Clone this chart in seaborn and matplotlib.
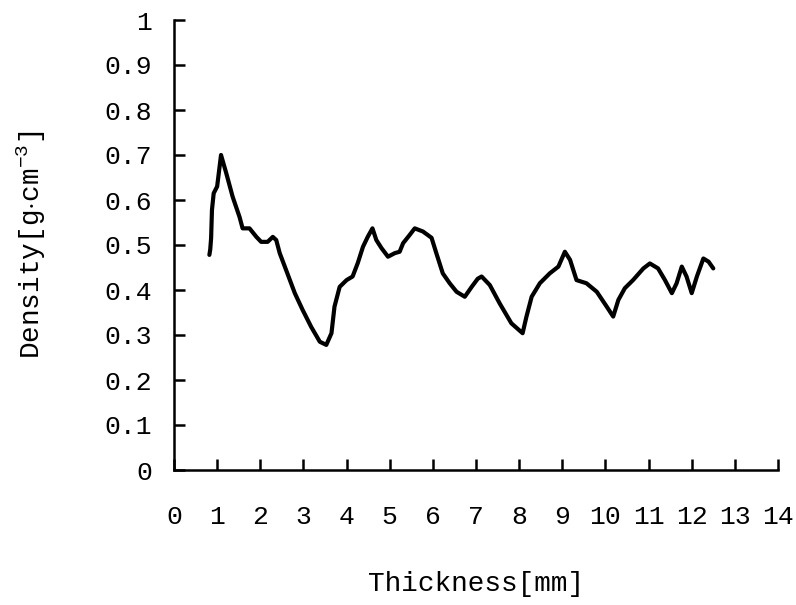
import numpy as np
import pandas as pd
import seaborn as sns
import matplotlib
matplotlib.use("Agg")
import matplotlib.pyplot as plt

# Density profile across the board thickness
thickness_mm = [0.82, 0.84, 0.86, 0.88, 0.92, 1.00, 1.09, 1.21, 1.36, 1.52, 1.59, 1.75, 1.91,
                2.02, 2.17, 2.29, 2.37, 2.45, 2.60, 2.80, 2.98, 3.18, 3.38, 3.53, 3.65,
                3.72, 3.84, 4.00, 4.14, 4.26, 4.38, 4.49, 4.60, 4.69, 4.81, 4.96, 5.12,
                5.23, 5.31, 5.46, 5.58, 5.77, 5.97, 6.08, 6.23, 6.39, 6.55, 6.74, 6.90,
                7.04, 7.13, 7.32, 7.55, 7.82, 8.08, 8.17, 8.29, 8.48, 8.71, 8.91, 9.06,
                9.18, 9.33, 9.56, 9.80, 10.03, 10.18, 10.30, 10.45, 10.64, 10.88, 11.03,
                11.22, 11.38, 11.54, 11.65, 11.77, 11.88, 12.00, 12.12, 12.27, 12.39, 12.50]
density_gcm3 = [0.478, 0.490, 0.515, 0.578, 0.615, 0.630, 0.700, 0.660, 0.607, 0.562, 0.537,
                0.537, 0.518, 0.507, 0.507, 0.518, 0.511, 0.482, 0.444, 0.393, 0.356, 0.318,
                0.285, 0.278, 0.304, 0.363, 0.407, 0.422, 0.430, 0.460, 0.496, 0.518, 0.537,
                0.511, 0.493, 0.474, 0.482, 0.485, 0.504, 0.522, 0.537, 0.530, 0.516, 0.482,
                0.437, 0.415, 0.396, 0.385, 0.407, 0.425, 0.430, 0.411, 0.370, 0.326, 0.304,
                0.341, 0.385, 0.415, 0.437, 0.452, 0.485, 0.467, 0.422, 0.415, 0.396, 0.363,
                0.341, 0.378, 0.404, 0.422, 0.448, 0.459, 0.448, 0.422, 0.393, 0.415, 0.452,
                0.430, 0.393, 0.430, 0.470, 0.463, 0.448]

x_ticks = list(range(0, 15))
y_ticks = [0, 0.1, 0.2, 0.3, 0.4, 0.5, 0.6, 0.7, 0.8, 0.9, 1]
y_tick_labels = ["0", "0.1", "0.2", "0.3", "0.4", "0.5", "0.6", "0.7", "0.8", "0.9", "1"]

df = pd.DataFrame({"Thickness": thickness_mm, "Density": density_gcm3})

sns.set_theme(style="ticks")
plt.rcParams["font.family"] = ["Liberation Mono", "DejaVu Sans Mono"]
plt.rcParams["mathtext.fontset"] = "custom"
plt.rcParams["mathtext.rm"] = "Liberation Mono"
plt.rcParams["mathtext.it"] = "Liberation Mono"

fig = plt.figure(figsize=(7.96, 6.05), dpi=100)
ax = fig.add_axes([174 / 796, 1 - 470 / 605, (778 - 174) / 796, (470 - 20) / 605])

sns.lineplot(data=df, x="Thickness", y="Density", ax=ax, color="black",
             linewidth=3.0, sort=False)

ax.set_xlim(0, 14)
ax.set_ylim(0, 1)
ax.set_xticks(x_ticks)
ax.set_xticklabels([str(t) for t in x_ticks])
ax.set_yticks(y_ticks)
ax.set_yticklabels(y_tick_labels)

for side in ("top", "right"):
    ax.spines[side].set_visible(False)
for side in ("left", "bottom"):
    ax.spines[side].set_linewidth(1.8)
    ax.spines[side].set_color("black")

ax.tick_params(axis="both", direction="in", length=8, width=1.8, colors="black",
               labelsize=19)
ax.tick_params(axis="x", pad=25)
ax.tick_params(axis="y", pad=16)

ax.set_xlabel("Thickness[mm]", fontsize=20, color="black")
ax.set_ylabel(r"Density[g$\cdot$cm$^{-3}$]", fontsize=20, color="black")
ax.xaxis.set_label_coords(0.5, -0.225)
ax.yaxis.set_label_coords(-0.208, 0.5)
ax.grid(False)

fig.savefig("out.png", dpi=100, facecolor="white")
